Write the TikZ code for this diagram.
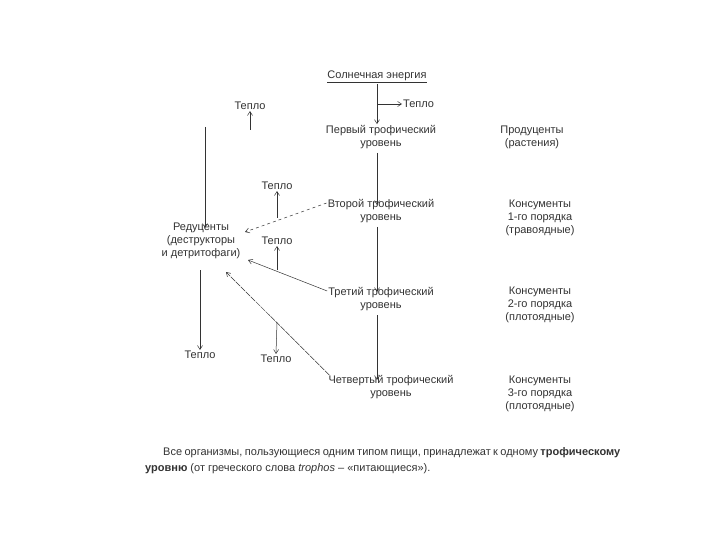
\documentclass[tikz,border=0pt]{standalone}
\usepackage{fontspec}
\setmainfont{Liberation Sans}
\usetikzlibrary{arrows.meta}
\definecolor{ink}{HTML}{333333}
\begin{document}
\begin{tikzpicture}[x=1pt,y=-1pt,
  lbl/.style={font=\fontsize{11}{13}\selectfont,text=ink,align=center,inner sep=1pt},
  ar/.style={draw=ink,-{Straight Barb[length=4pt,width=5pt]},line width=0.5pt},
  ln/.style={draw=ink,line width=0.5pt}]
\useasboundingbox[fill=white] (0,0) rectangle (720,540);
\node[lbl] (sun) at (377,77) {\underline{Солнечная энергия}};
\node[lbl,anchor=west] (h0) at (402,104) {Тепло};
\node[lbl] (l1) at (381,137) {Первый трофический\\уровень};
\node[lbl] (l2) at (381,211) {Второй трофический\\уровень};
\node[lbl] (l3) at (381,299) {Третий трофический\\уровень};
\node[lbl] (l4) at (391,387) {Четвертый трофический\\уровень};
\node[lbl] (p1) at (532,137) {Продуценты\\(растения)};
\node[lbl] (p2) at (540,218) {Консументы\\1-го порядка\\(травоядные)};
\node[lbl] (p3) at (540,305) {Консументы\\2-го порядка\\(плотоядные)};
\node[lbl] (p4) at (540,394) {Консументы\\3-го порядка\\(плотоядные)};
\node[lbl] (red) at (201,241) {Редуценты\\(деструкторы\\и детритофаги)};
\node[lbl] (ht) at (250,106) {Тепло};
\node[lbl] (ha) at (277,186) {Тепло};
\node[lbl] (hb) at (277,241) {Тепло};
\node[lbl] (hc) at (276,359) {Тепло};
\node[lbl] (hl) at (200,355) {Тепло};
\coordinate (j0) at (377,104);
\coordinate (top) at (205,127);
\coordinate (bt) at (250,130);
\coordinate (ja) at (277,218);
\coordinate (jb) at (277,270);
\coordinate (jc) at (277,322);
\coordinate (rb) at (200,270);
\draw[ln] (sun.south -| j0) -- (j0);
\draw[ar] (j0) -- (l1.north -| j0);
\draw[ar] (j0) -- (h0.west);
\draw[ar] (377,153) -- (377,205);
\draw[ar] (377,227) -- (377,292);
\draw[ar] (377,315) -- (377,380);
\draw[ar] (top) -- (205,228);
\draw[ar] (bt) -- (ht.south);
\draw[ar,dashed] (l2.west) ++(0,-8) coordinate (s2) -- (245,232);
\draw[ar] (ja) -- (ha.south);
\draw[ar] (l3.west) ++(0,-8) coordinate (s3) -- (248,260);
\draw[ar] (jb) -- (hb.south);
\draw[ar,dash pattern=on 6pt off 1pt] (l4.west) ++(2,-12) coordinate (s4) -- (226,272);
\draw[ar] (jc) -- (hc.north);
\draw[ar] (rb) -- (hl.north);
\node[text width=475pt,align=justify,anchor=north west,font=\fontsize{11}{16}\selectfont,text=ink,inner sep=0pt] (par) at (145,447)
{\hspace*{18pt}Все организмы, пользующиеся одним типом пищи, принадлежат к одному \textbf{трофическому уровню} (от греческого слова \textit{trophos} – «питающиеся»).};
\end{tikzpicture}
\end{document}
